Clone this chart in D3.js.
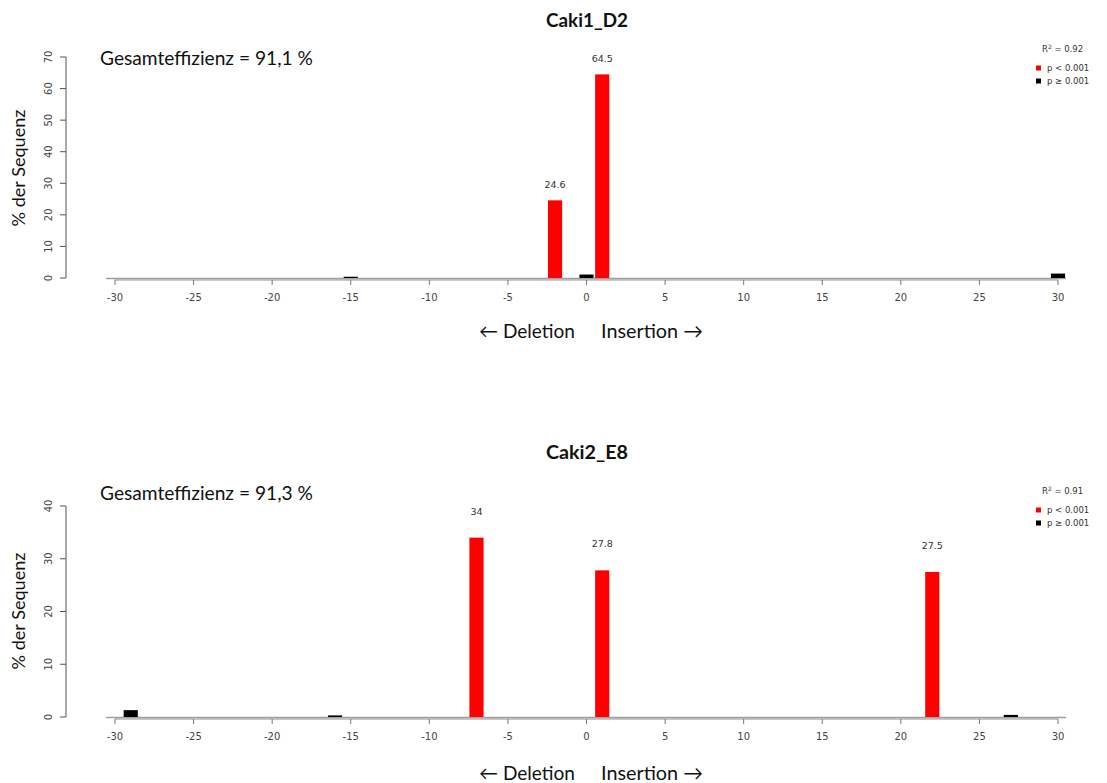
<!DOCTYPE html>
<html>
<head>
<meta charset="utf-8">
<script src="https://cdn.jsdelivr.net/npm/d3@7"></script>
<style>
  html, body { margin: 0; padding: 0; background: #fff; }
  svg { display: block; }
</style>
</head>
<body>
<svg id="chart" width="1107" height="783"></svg>
<script>
// Indel size distribution for two clones (positions = bp, values = % of reads)
const xTicks = [-30, -25, -20, -15, -10, -5, 0, 5, 10, 15, 20, 25, 30];

const titleA = "Caki1_D2";
const effA = "Gesamteffizienz = 91,1 %";
const r2A = "0.92";
const posA = [-15, -2, 0, 1, 30];
const valA = [0.4, 24.6, 1.1, 64.5, 1.4];
const sigA = [false, true, false, true, false];
const yTicksA = [0, 10, 20, 30, 40, 50, 60, 70];

const titleB = "Caki2_E8";
const effB = "Gesamteffizienz = 91,3 %";
const r2B = "0.91";
const posB = [-29, -16, -7, 1, 22, 27];
const valB = [1.3, 0.3, 34, 27.8, 27.5, 0.4];
const sigB = [false, false, true, true, true, false];
const yTicksB = [0, 10, 20, 30, 40];

const svg = d3.select("#chart");
const sansTitle = "Lato, 'Open Sans', sans-serif";
const sansSmall = "'DejaVu Sans', sans-serif";

// scale a text's font size so it spans the given width
function fit(sel, width) {
  const node = sel.node();
  const fs = parseFloat(sel.attr("font-size"));
  const w = node.getComputedTextLength();
  sel.attr("font-size", (fs * width / w).toFixed(2));
  return sel;
}

function panel(cfg) {
  const g = svg.append("g");
  const x = d3.scaleLinear().domain([-30, 30]).range([115, 1058]);
  const y = d3.scaleLinear().domain([0, cfg.yMax]).range([cfg.y0, cfg.yTop]);
  const half = (x(0.45) - x(0));

  // title
  fit(g.append("text")
    .attr("x", 587).attr("y", cfg.titleY)
    .attr("text-anchor", "middle").attr("dominant-baseline", "central")
    .attr("font-family", sansTitle).attr("font-weight", "bold")
    .attr("font-size", 16).attr("fill", "#111")
    .text(cfg.title), 82);

  // efficiency
  fit(g.append("text")
    .attr("x", 100).attr("y", cfg.effY)
    .attr("dominant-baseline", "central")
    .attr("font-family", sansTitle).attr("font-size", 18).attr("fill", "#111")
    .text(cfg.eff), 213);

  // y axis title
  fit(g.append("text")
    .attr("transform", `translate(18,${cfg.yLabelY}) rotate(-90)`)
    .attr("text-anchor", "middle").attr("dominant-baseline", "central")
    .attr("font-family", sansTitle).attr("font-size", 18).attr("fill", "#111")
    .text("% der Sequenz"), 117);

  // y axis (rotated tick labels, R style)
  const yAxis = g.append("g");
  yAxis.append("line")
    .attr("x1", 66).attr("x2", 66)
    .attr("y1", y(0)).attr("y2", y(cfg.yMax))
    .attr("stroke", "#555").attr("stroke-width", 1);
  yAxis.selectAll("line.tick").data(cfg.yTicks).join("line")
    .attr("class", "tick")
    .attr("x1", 60).attr("x2", 66)
    .attr("y1", d => y(d)).attr("y2", d => y(d))
    .attr("stroke", "#555");
  yAxis.selectAll("text").data(cfg.yTicks).join("text")
    .attr("transform", d => `translate(48,${y(d)}) rotate(-90)`)
    .attr("text-anchor", "middle").attr("dominant-baseline", "central")
    .attr("font-family", sansSmall).attr("font-size", 10).attr("fill", "#444")
    .text(d => d);

  // baseline formed by the empty positions
  g.append("line")
    .attr("x1", x(-30) - half - 2).attr("x2", x(30) + half + 1)
    .attr("y1", cfg.y0 + 0.5).attr("y2", cfg.y0 + 0.5)
    .attr("stroke", "#a0a0a0").attr("stroke-width", 1.6);

  // x axis
  const xAxis = g.append("g");
  xAxis.append("line")
    .attr("x1", x(-30)).attr("x2", x(30))
    .attr("y1", cfg.y0 + 2).attr("y2", cfg.y0 + 2)
    .attr("stroke", "#777").attr("stroke-width", 0.8);
  xAxis.selectAll("line.tick").data(xTicks).join("line")
    .attr("class", "tick")
    .attr("x1", d => x(d)).attr("x2", d => x(d))
    .attr("y1", cfg.y0 + 2).attr("y2", cfg.y0 + 7)
    .attr("stroke", "#777");
  xAxis.selectAll("text").data(xTicks).join("text")
    .attr("x", d => x(d)).attr("y", cfg.y0 + 19)
    .attr("text-anchor", "middle").attr("dominant-baseline", "central")
    .attr("font-family", sansSmall).attr("font-size", 10).attr("fill", "#444")
    .text(d => d);

  // bars
  const data = cfg.pos.map((p, i) => ({ p, v: cfg.val[i], s: cfg.sig[i] }));
  g.selectAll("rect.bar").data(data).join("rect")
    .attr("class", "bar")
    .attr("x", d => x(d.p) - half)
    .attr("width", half * 2)
    .attr("y", d => y(d.v))
    .attr("height", d => Math.max(1.2, y(0) - y(d.v)))
    .attr("fill", d => d.s ? "#ff0000" : "#000");

  // value labels for significant bars
  g.selectAll("text.val").data(data.filter(d => d.s)).join("text")
    .attr("class", "val")
    .attr("x", d => x(d.p)).attr("y", d => y(d.v + 5))
    .attr("text-anchor", "middle").attr("dominant-baseline", "central")
    .attr("font-family", sansSmall).attr("font-size", 9.5).attr("fill", "#333")
    .text(d => d.v);

  // legend
  const lg = g.append("g");
  const r2 = lg.append("text")
    .attr("x", 1042).attr("y", cfg.legY)
    .attr("dominant-baseline", "central")
    .attr("font-family", sansSmall).attr("font-size", 8.5).attr("fill", "#333");
  r2.append("tspan").text("R");
  r2.append("tspan").attr("dy", -3).attr("font-size", 6).text("2");
  r2.append("tspan").attr("dy", 3).text(" = " + cfg.r2);
  const items = [["#ff0000", "p < 0.001"], ["#000", "p \u2265 0.001"]];
  items.forEach((it, i) => {
    const yy = cfg.legY + 19 + i * 13;
    lg.append("rect").attr("x", 1036).attr("y", yy - 2.5)
      .attr("width", 5).attr("height", 5).attr("fill", it[0]);
    lg.append("text").attr("x", 1047).attr("y", yy)
      .attr("dominant-baseline", "central")
      .attr("font-family", sansSmall).attr("font-size", 8.5).attr("fill", "#333")
      .text(it[1]);
  });

  // direction labels
  fit(g.append("text")
    .attr("x", 479).attr("y", cfg.dirY)
    .attr("dominant-baseline", "central")
    .attr("font-family", sansTitle).attr("font-size", 18).attr("fill", "#111")
    .text("\u2190 Deletion"), 96);
  fit(g.append("text")
    .attr("x", 601).attr("y", cfg.dirY)
    .attr("dominant-baseline", "central")
    .attr("font-family", sansTitle).attr("font-size", 18).attr("fill", "#111")
    .text("Insertion \u2192"), 102);
}

panel({
  title: titleA, eff: effA, r2: r2A, pos: posA, val: valA, sig: sigA,
  yTicks: yTicksA, yMax: 70, y0: 278, yTop: 57,
  titleY: 19, effY: 57, yLabelY: 168, legY: 49, dirY: 330
});

panel({
  title: titleB, eff: effB, r2: r2B, pos: posB, val: valB, sig: sigB,
  yTicks: yTicksB, yMax: 40, y0: 717, yTop: 506,
  titleY: 451, effY: 492, yLabelY: 611, legY: 491, dirY: 772
});
</script>
</body>
</html>
